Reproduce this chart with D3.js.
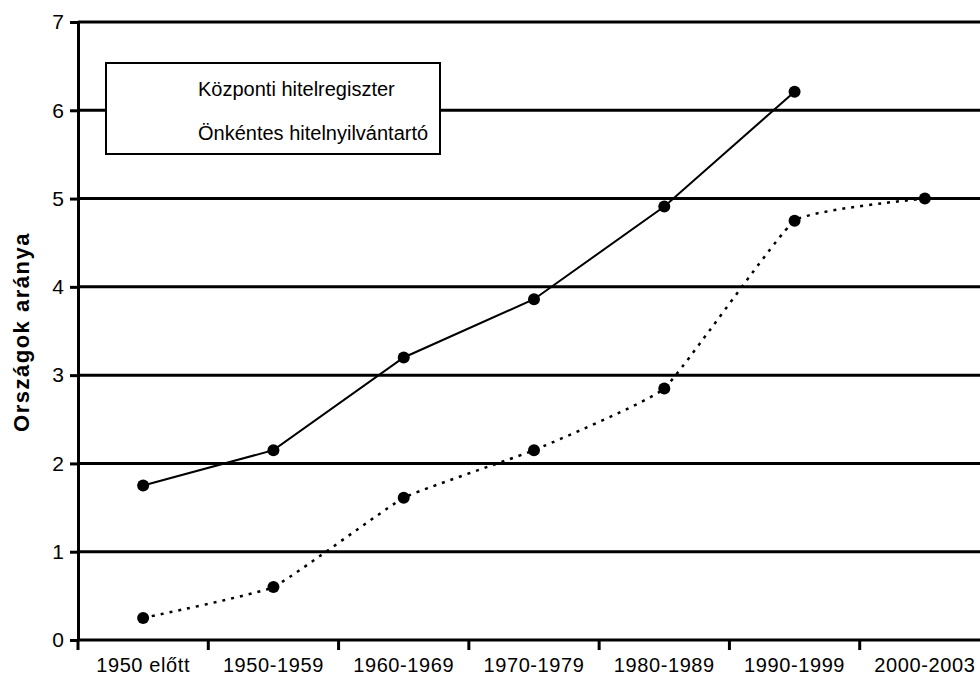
<!DOCTYPE html>
<html>
<head>
<meta charset="utf-8">
<script src="https://cdn.jsdelivr.net/npm/d3@7"></script>
<style>
  body { margin: 0; background: #fff; }
  text { font-family: "Liberation Sans", Arial, sans-serif; fill: #000; }
</style>
</head>
<body>
<div id="chart"></div>
<script>
// data
var categories = ["1950 előtt", "1950-1959", "1960-1969", "1970-1979", "1980-1989", "1990-1999", "2000-2003"];
var kozpontiValues = [1.75, 2.15, 3.2, 3.86, 4.91, 6.21, null];
var onkentesValues = [0.25, 0.6, 1.61, 2.15, 2.85, 4.75, 5.0];
var yTicks = [0, 1, 2, 3, 4, 5, 6, 7];
var seriesNames = ["Központi hitelregiszter", "Önkéntes hitelnyilvántartó"];
var yTitle = "Országok aránya";

var svgWidth = 980;
var svgHeight = 692;

var margin = {
  top: 22,
  left: 78
};
var plotRight = 990;   // plot runs past the window edge, as in the original
var plotBottom = 640;

var svg = d3.select("#chart")
  .append("svg")
  .attr("width", svgWidth)
  .attr("height", svgHeight);

// scales
var xScale = d3.scaleBand()
  .domain(categories)
  .range([margin.left, plotRight]);

var yScale = d3.scaleLinear()
  .domain([0, 7])
  .range([plotBottom, margin.top]);

// horizontal gridlines
svg.append("g")
  .selectAll("line")
  .data(yTicks.filter(d => d > 0))
  .enter()
  .append("line")
  .attr("x1", margin.left)
  .attr("x2", plotRight)
  .attr("y1", d => yScale(d))
  .attr("y2", d => yScale(d))
  .attr("stroke", "#000")
  .attr("stroke-width", 3);

// y axis
var leftAxis = d3.axisLeft(yScale)
  .tickValues(yTicks)
  .tickFormat(d3.format("d"))
  .tickSize(8)
  .tickSizeOuter(0)
  .tickPadding(6);

var yAxis = svg.append("g")
  .attr("transform", `translate(${margin.left}, 0)`)
  .call(leftAxis);

yAxis.select(".domain").attr("stroke-width", 3);
yAxis.selectAll(".tick line").attr("stroke-width", 3);
yAxis.selectAll(".tick text")
  .attr("font-size", "21px")
  .attr("font-family", "Liberation Sans, Arial, sans-serif");

// x axis: ticks sit on the band edges, labels in the band centres
var edgeScale = d3.scaleLinear()
  .domain([0, categories.length])
  .range([margin.left, plotRight]);

svg.append("line")
  .attr("x1", margin.left)
  .attr("x2", plotRight)
  .attr("y1", plotBottom)
  .attr("y2", plotBottom)
  .attr("stroke", "#000")
  .attr("stroke-width", 3);

svg.append("g")
  .selectAll("line")
  .data(d3.range(categories.length))
  .enter()
  .append("line")
  .attr("x1", d => edgeScale(d))
  .attr("x2", d => edgeScale(d))
  .attr("y1", plotBottom)
  .attr("y2", plotBottom + 10)
  .attr("stroke", "#000")
  .attr("stroke-width", 3);

svg.append("g")
  .selectAll("text")
  .data(categories)
  .enter()
  .append("text")
  .attr("x", d => xScale(d) + xScale.bandwidth() / 2)
  .attr("y", 672)
  .attr("text-anchor", "middle")
  .attr("font-size", "20px")
  .attr("letter-spacing", "0.6px")
  .text(d => d);

// y axis title
svg.append("text")
  .attr("transform", "translate(29, 332) rotate(-90)")
  .attr("text-anchor", "middle")
  .attr("font-size", "22px")
  .attr("font-weight", "bold")
  .attr("letter-spacing", "1.5px")
  .text(yTitle);

// lines
var xCenter = (d, i) => xScale(categories[i]) + xScale.bandwidth() / 2;

var solidLine = d3.line()
  .defined(d => d !== null)
  .x(xCenter)
  .y(d => yScale(d));

// the dotted series is lightly smoothed in the original
var dottedLine = d3.line()
  .defined(d => d !== null)
  .x(xCenter)
  .y(d => yScale(d))
  .curve(d3.curveCardinal.tension(0.65));

svg.append("path")
  .datum(kozpontiValues)
  .attr("d", solidLine)
  .attr("fill", "none")
  .attr("stroke", "#000")
  .attr("stroke-width", 2);

svg.append("path")
  .datum(onkentesValues)
  .attr("d", dottedLine)
  .attr("fill", "none")
  .attr("stroke", "#000")
  .attr("stroke-width", 2.5)
  .attr("stroke-dasharray", "3,6");

// markers
[kozpontiValues, onkentesValues].forEach(function(values) {
  svg.append("g")
    .selectAll("circle")
    .data(values.map((v, i) => ({ v: v, i: i })).filter(d => d.v !== null))
    .enter()
    .append("circle")
    .attr("cx", d => xCenter(d.v, d.i))
    .attr("cy", d => yScale(d.v))
    .attr("r", 6)
    .attr("fill", "#000");
});

// legend (text only, as in the original)
var legend = svg.append("g");

legend.append("rect")
  .attr("x", 106)
  .attr("y", 63)
  .attr("width", 334)
  .attr("height", 91)
  .attr("fill", "#fff")
  .attr("stroke", "#000")
  .attr("stroke-width", 2);

legend.selectAll("text")
  .data(seriesNames)
  .enter()
  .append("text")
  .attr("x", 198)
  .attr("y", (d, i) => 96 + i * 44)
  .attr("font-size", "20px")
  .text(d => d);
</script>
</body>
</html>
